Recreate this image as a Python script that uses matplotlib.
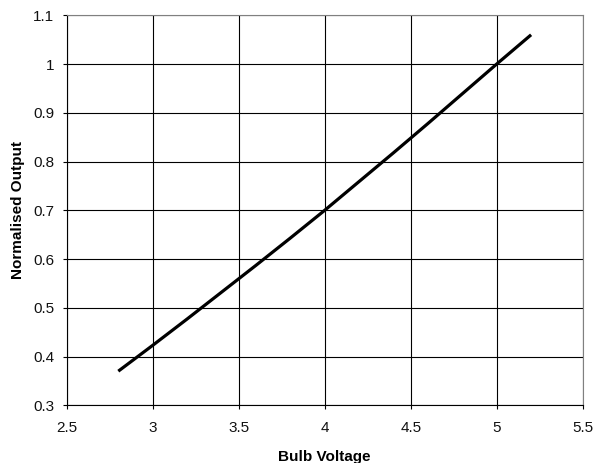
import matplotlib
matplotlib.use('Agg')
import matplotlib.pyplot as plt

voltage = [2.8, 3.0, 3.2, 3.4, 3.6, 3.8, 4.0, 4.2, 4.4, 4.6, 4.8, 5.0, 5.2]
output = [0.37, 0.423, 0.477, 0.532, 0.587, 0.643, 0.70, 0.759, 0.818, 0.878, 0.939, 1.0, 1.06]

x_ticks = [2.5, 3, 3.5, 4, 4.5, 5, 5.5]
y_ticks = [0.3, 0.4, 0.5, 0.6, 0.7, 0.8, 0.9, 1, 1.1]

plt.rcParams['font.family'] = ['Liberation Sans', 'DejaVu Sans']

fig = plt.figure(figsize=(5.94, 4.63), dpi=100)
ax = fig.add_axes([66.7 / 594, 1 - 405.3 / 463, (582.7 - 66.7) / 594, (405.3 - 15.3) / 463])

ax.plot(voltage, output, color='black', linewidth=2.3, solid_capstyle='butt')

ax.set_xlim(2.5, 5.5)
ax.set_ylim(0.3, 1.1)
ax.set_xticks(x_ticks)
ax.set_xticklabels([str(t) for t in x_ticks])
ax.set_yticks(y_ticks)
ax.set_yticklabels([str(t) for t in y_ticks])
ax.grid(True, color='black', linewidth=0.8)
ax.set_axisbelow(True)
ax.tick_params(direction='out', length=3, width=0.8, labelsize=11, labelcolor='#111111')
ax.tick_params(axis='y', pad=6)
ax.tick_params(axis='x', pad=8)

for side in ['top', 'right']:
    ax.spines[side].set_color('#808080')
    ax.spines[side].set_linewidth(0.8)
for side in ['left', 'bottom']:
    ax.spines[side].set_color('black')
    ax.spines[side].set_linewidth(0.8)

ax.set_xlabel('Bulb Voltage', fontsize=11, fontweight='bold', labelpad=11)
ax.set_ylabel('Normalised Output', fontsize=11, fontweight='bold', labelpad=5.5)

fig.savefig('out.png', dpi=100)
